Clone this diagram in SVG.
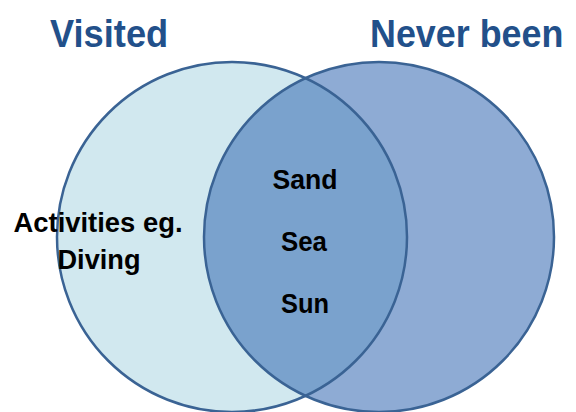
<svg xmlns="http://www.w3.org/2000/svg" width="576" height="412" viewBox="0 0 576 412">
  <style>
    .title { font-family: "Liberation Sans", Arial, sans-serif; font-weight: bold; font-size: 39px; fill: #22508a; }
    .label { font-family: "Liberation Sans", Arial, sans-serif; font-weight: bold; font-size: 28px; fill: #000; text-anchor: middle; }
    .ring { fill: none; stroke: #3a6394; stroke-width: 2.5; }
  </style>
  <defs>
    <clipPath id="leftClip">
      <circle cx="232" cy="237" r="175"/>
    </clipPath>
  </defs>
  <rect width="576" height="412" fill="#ffffff"/>

  <g id="visited">
    <circle cx="232" cy="237" r="175" fill="#d1e8ef"/>
  </g>
  <g id="never-been">
    <circle cx="379" cy="237" r="175" fill="#8eabd4"/>
  </g>
  <g id="overlap">
    <circle cx="379" cy="237" r="175" fill="#7aa2cd" clip-path="url(#leftClip)"/>
  </g>
  <g id="outlines">
    <circle class="ring" cx="232" cy="237" r="175"/>
    <circle class="ring" cx="379" cy="237" r="175"/>
  </g>

  <!-- titles are narrowed horizontally to a condensed look -->
  <g id="titles">
    <text class="title" transform="translate(50,47) scale(0.93,1)">Visited</text>
    <text class="title" transform="translate(370,47) scale(0.92,1)">Never been</text>
  </g>

  <g id="shared-labels">
    <text class="label" x="305" y="189" textLength="65" lengthAdjust="spacingAndGlyphs">Sand</text>
    <text class="label" x="304" y="251" textLength="46" lengthAdjust="spacingAndGlyphs">Sea</text>
    <text class="label" x="305" y="313" textLength="48" lengthAdjust="spacingAndGlyphs">Sun</text>
  </g>

  <g id="visited-labels">
    <text class="label" x="98" y="232" textLength="169" lengthAdjust="spacingAndGlyphs">Activities eg.</text>
    <text class="label" x="99" y="269" textLength="83" lengthAdjust="spacingAndGlyphs">Diving</text>
  </g>
</svg>
